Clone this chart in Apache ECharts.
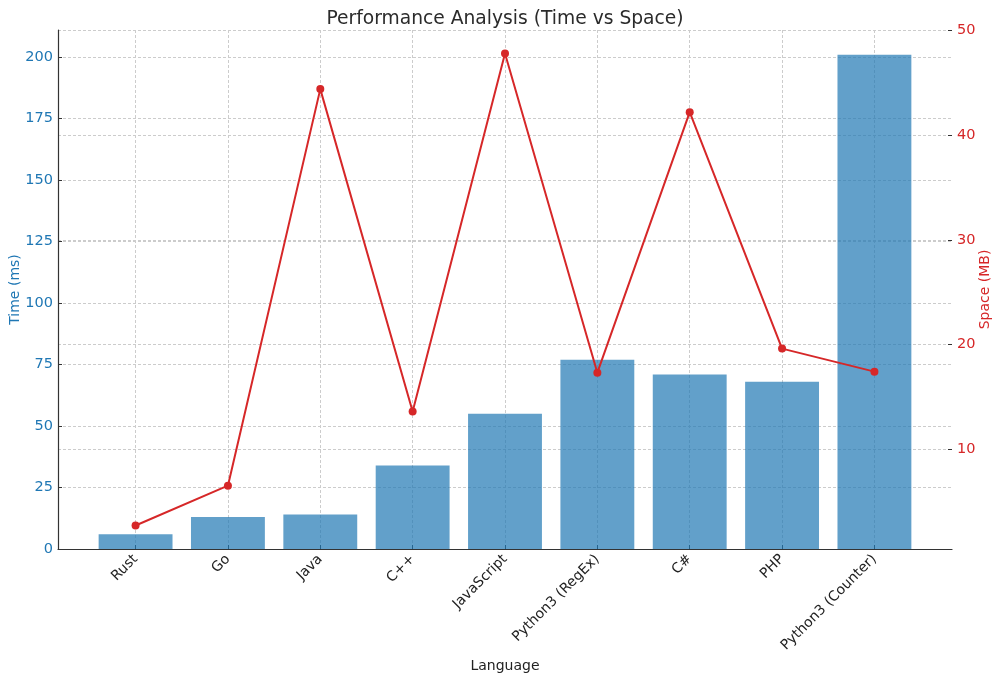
<!DOCTYPE html>
<html>
<head>
<meta charset="utf-8">
<script src="https://cdn.jsdelivr.net/npm/echarts@6/dist/echarts.min.js"></script>
<style>html,body{margin:0;padding:0;background:#fff}#c{width:1000px;height:681px}</style>
</head>
<body>
<div id="c"></div>
<script>
const categories = ['Rust', 'Go', 'Java', 'C++', 'JavaScript', 'Python3 (RegEx)', 'C#', 'PHP', 'Python3 (Counter)'];
const timeMs = [6, 13, 14, 34, 55, 77, 71, 68, 201];
const spaceMB = [2.7, 6.5, 44.4, 13.6, 47.8, 17.3, 42.2, 19.6, 17.4];
const timeTicks = [0, 25, 50, 75, 100, 125, 150, 175, 200];
const spaceTicks = [10, 20, 30, 40, 50];

const FONT = 'DejaVu Sans';
const BLUE = '#1f77b4', RED = '#d62728';
const plotLeft = 58, plotRight = 48, plotTop = 30, plotBottom = 132;
const plotW = 1000 - plotLeft - plotRight;
const xMin = -0.84, xMax = categories.length - 1 + 0.84;
const unit = plotW / (xMax - xMin);
const pad = (-0.5 - xMin) * unit;
const timeMax = 211.05, spaceMin = 0.45, spaceMax = 50.05;

const grid = { color: '#cccccc', type: [3, 2], width: 1 };

const chart = echarts.init(document.getElementById('c'), null, { renderer: 'canvas' });
chart.setOption({
  animation: false,
  backgroundColor: '#fff',
  textStyle: { fontFamily: FONT },
  title: {
    text: 'Performance Analysis (Time vs Space)',
    left: plotLeft + plotW / 2 - 5, textAlign: 'center', top: 5,
    textStyle: { fontFamily: FONT, fontSize: 18.7, fontWeight: 'normal', color: '#2b2b2b' }
  },
  grid: [
    { left: plotLeft, right: plotRight, top: plotTop, bottom: plotBottom, containLabel: false, outerBoundsMode: 'none' },
    { left: plotLeft + pad, right: plotRight + pad, top: plotTop, bottom: plotBottom, containLabel: false, outerBoundsMode: 'none' }
  ],
  xAxis: [
    {
      type: 'value', gridIndex: 0, min: xMin, max: xMax, splitNumber: 10,
      axisLine: { show: true, onZero: false, lineStyle: { color: '#333', width: 1.2 } },
      axisTick: { show: false }, axisLabel: { show: false },
      splitLine: { show: true, showMinLine: false, showMaxLine: false, lineStyle: grid }
    },
    {
      type: 'category', gridIndex: 1, data: categories,
      axisLine: { show: false, onZero: false },
      axisTick: { show: true, inside: true, alignWithLabel: true, length: 4, lineStyle: { color: '#333' } },
      axisLabel: { rotate: 45, interval: 0, fontSize: 14, color: '#222', fontFamily: FONT, margin: 8 },
      splitLine: { show: false },
      name: 'Language', nameLocation: 'middle', nameGap: 110, nameMoveOverlap: false,
      nameTextStyle: { fontSize: 14, color: '#222', fontFamily: FONT }
    }
  ],
  yAxis: [
    {
      type: 'value', gridIndex: 0, position: 'left', min: 0, max: timeMax, interval: 25,
      name: 'Time (ms)', nameLocation: 'middle', nameGap: 36, nameMoveOverlap: false,
      nameTextStyle: { fontSize: 14, color: BLUE, fontFamily: FONT },
      axisLine: { show: true, onZero: false, lineStyle: { color: '#333', width: 1.2 } },
      axisTick: { show: true, inside: true, length: 4, lineStyle: { color: '#333' } },
      axisLabel: { fontSize: 14.5, color: BLUE, fontFamily: FONT, margin: 5, showMaxLabel: false,
        formatter: v => timeTicks.includes(v) ? String(v) : '' },
      splitLine: { show: true, showMinLine: false, showMaxLine: false, lineStyle: grid }
    },
    {
      type: 'value', gridIndex: 0, position: 'right', min: spaceMin, max: spaceMax, splitNumber: 5,
      name: 'Space (MB)', nameLocation: 'middle', nameGap: 26, nameMoveOverlap: false,
      nameTextStyle: { fontSize: 14, color: RED, fontFamily: FONT },
      axisLine: { show: false, onZero: false },
      axisTick: { show: true, inside: true, length: 4, lineStyle: { color: '#333' } },
      axisLabel: { fontSize: 14.5, color: RED, fontFamily: FONT, margin: 5, showMinLabel: false, showMaxLabel: false,
        formatter: v => spaceTicks.includes(v) ? String(v) : '' },
      splitLine: { show: true, showMinLine: false, showMaxLine: false, lineStyle: grid }
    },
    { type: 'value', gridIndex: 1, min: 0, max: timeMax, show: false, splitLine: { show: false } },
    { type: 'value', gridIndex: 1, min: spaceMin, max: spaceMax, show: false, splitLine: { show: false } }
  ],
  series: [
    {
      name: 'Time (ms)', type: 'bar', xAxisIndex: 1, yAxisIndex: 2,
      data: timeMs, barWidth: '80%',
      itemStyle: { color: 'rgba(31,119,180,0.7)' }, z: 2
    },
    {
      name: 'Space (MB)', type: 'line', xAxisIndex: 1, yAxisIndex: 3,
      data: spaceMB, symbol: 'circle', symbolSize: 8,
      lineStyle: { color: RED, width: 2 }, itemStyle: { color: RED }, z: 3
    }
  ]
});
</script>
</body>
</html>
